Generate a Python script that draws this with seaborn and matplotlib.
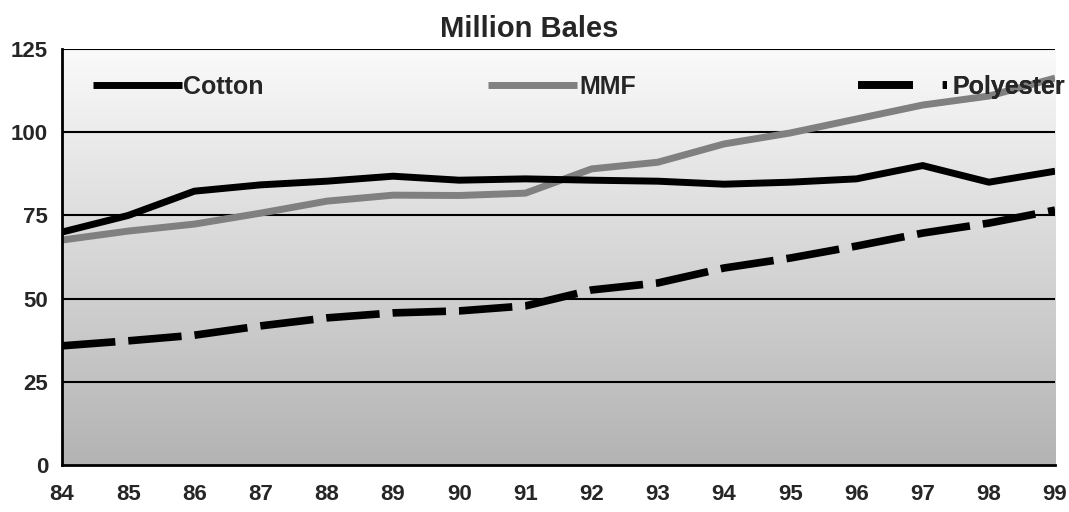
import numpy as np
import pandas as pd
import matplotlib
matplotlib.use("Agg")
import matplotlib.pyplot as plt
import seaborn as sns
from matplotlib.lines import Line2D

years = ["84", "85", "86", "87", "88", "89", "90", "91", "92", "93", "94", "95", "96", "97", "98", "99"]
cotton = [70.0, 75.0, 82.3, 84.2, 85.3, 86.8, 85.6, 86.0, 85.6, 85.3, 84.4, 85.0, 86.0, 90.0, 85.0, 88.3]
mmf = [67.6, 70.3, 72.4, 75.7, 79.3, 81.1, 81.0, 81.7, 89.0, 91.0, 96.5, 99.8, 104.0, 108.2, 110.9, 116.3]
polyester = [35.8, 37.3, 39.0, 41.8, 44.2, 45.7, 46.3, 47.8, 52.6, 54.7, 59.2, 62.2, 65.8, 69.7, 72.7, 76.6]
y_ticks = [0, 25, 50, 75, 100, 125]
series_names = ["Cotton", "MMF", "Polyester"]

sns.set_theme(style="white")
plt.rcParams["font.family"] = ["Liberation Sans", "DejaVu Sans"]
plt.rcParams["font.weight"] = "bold"
plt.rcParams["lines.solid_capstyle"] = "butt"
plt.rcParams["lines.dash_capstyle"] = "butt"

df = pd.DataFrame({"x": np.arange(len(years)), "Cotton": cotton, "MMF": mmf, "Polyester": polyester})

fig = plt.figure(figsize=(10.69, 5.12), dpi=100)
ax = fig.add_axes([0.058, 0.092, 0.929, 0.812])

# gradient background
grad = np.linspace(0, 1, 256).reshape(-1, 1)
cmap = matplotlib.colors.LinearSegmentedColormap.from_list("g", ["#fafafa", "#b3b3b3"])
ax.imshow(grad, aspect="auto", cmap=cmap, extent=[0, 1, 0, 1], transform=ax.transAxes, zorder=0)

for yv in y_ticks[1:]:
    ax.axhline(yv, color="black", lw=1.5, zorder=1)

sns.lineplot(data=df, x="x", y="Polyester", ax=ax, color="black", lw=5.5, zorder=3)
ax.lines[-1].set_dashes([7, 1.7])
sns.lineplot(data=df, x="x", y="MMF", ax=ax, color="#808080", lw=5, zorder=4)
sns.lineplot(data=df, x="x", y="Cotton", ax=ax, color="black", lw=5, zorder=5)

ax.set_xlim(0, len(years) - 1)
ax.set_ylim(0, 125)
ax.set_xticks(np.arange(len(years)))
ax.set_xticklabels(years)
ax.set_yticks(y_ticks)
ax.set_xlabel("")
ax.set_ylabel("")
ax.tick_params(axis="both", direction="out", length=6, width=2, color="black",
               labelsize=16, pad=4)
for lab in ax.get_xticklabels() + ax.get_yticklabels():
    lab.set_fontweight("bold")
ax.tick_params(axis="x", pad=8)
for s in ["top", "right"]:
    ax.spines[s].set_visible(False)
for s in ["left", "bottom"]:
    ax.spines[s].set_color("black")
    ax.spines[s].set_linewidth(2)
    ax.spines[s].set_zorder(6)

ax.set_title("Million Bales", fontsize=21, fontweight="bold", pad=9, x=0.47)

handles = [Line2D([], [], color="black", lw=5, solid_capstyle="butt"),
           Line2D([], [], color="#808080", lw=5, solid_capstyle="butt"),
           Line2D([], [], color="black", lw=5.5, dashes=[7.2, 3.9], dash_capstyle="butt")]
anchors = [0.0312, 0.429, 0.8016]
pads = [0.04, 0.08, 0.2]
for h, name, xa, tp in zip(handles, series_names, anchors, pads):
    lg = ax.legend([h], [name], loc="center left", bbox_to_anchor=(xa, 0.909),
                   frameon=False, borderpad=0, borderaxespad=0,
                   handlelength=3.56, handletextpad=tp,
                   prop={"weight": "bold", "size": 18})
    lg.set_zorder(7)
    ax.add_artist(lg)

fig.savefig("out.png", dpi=100)
